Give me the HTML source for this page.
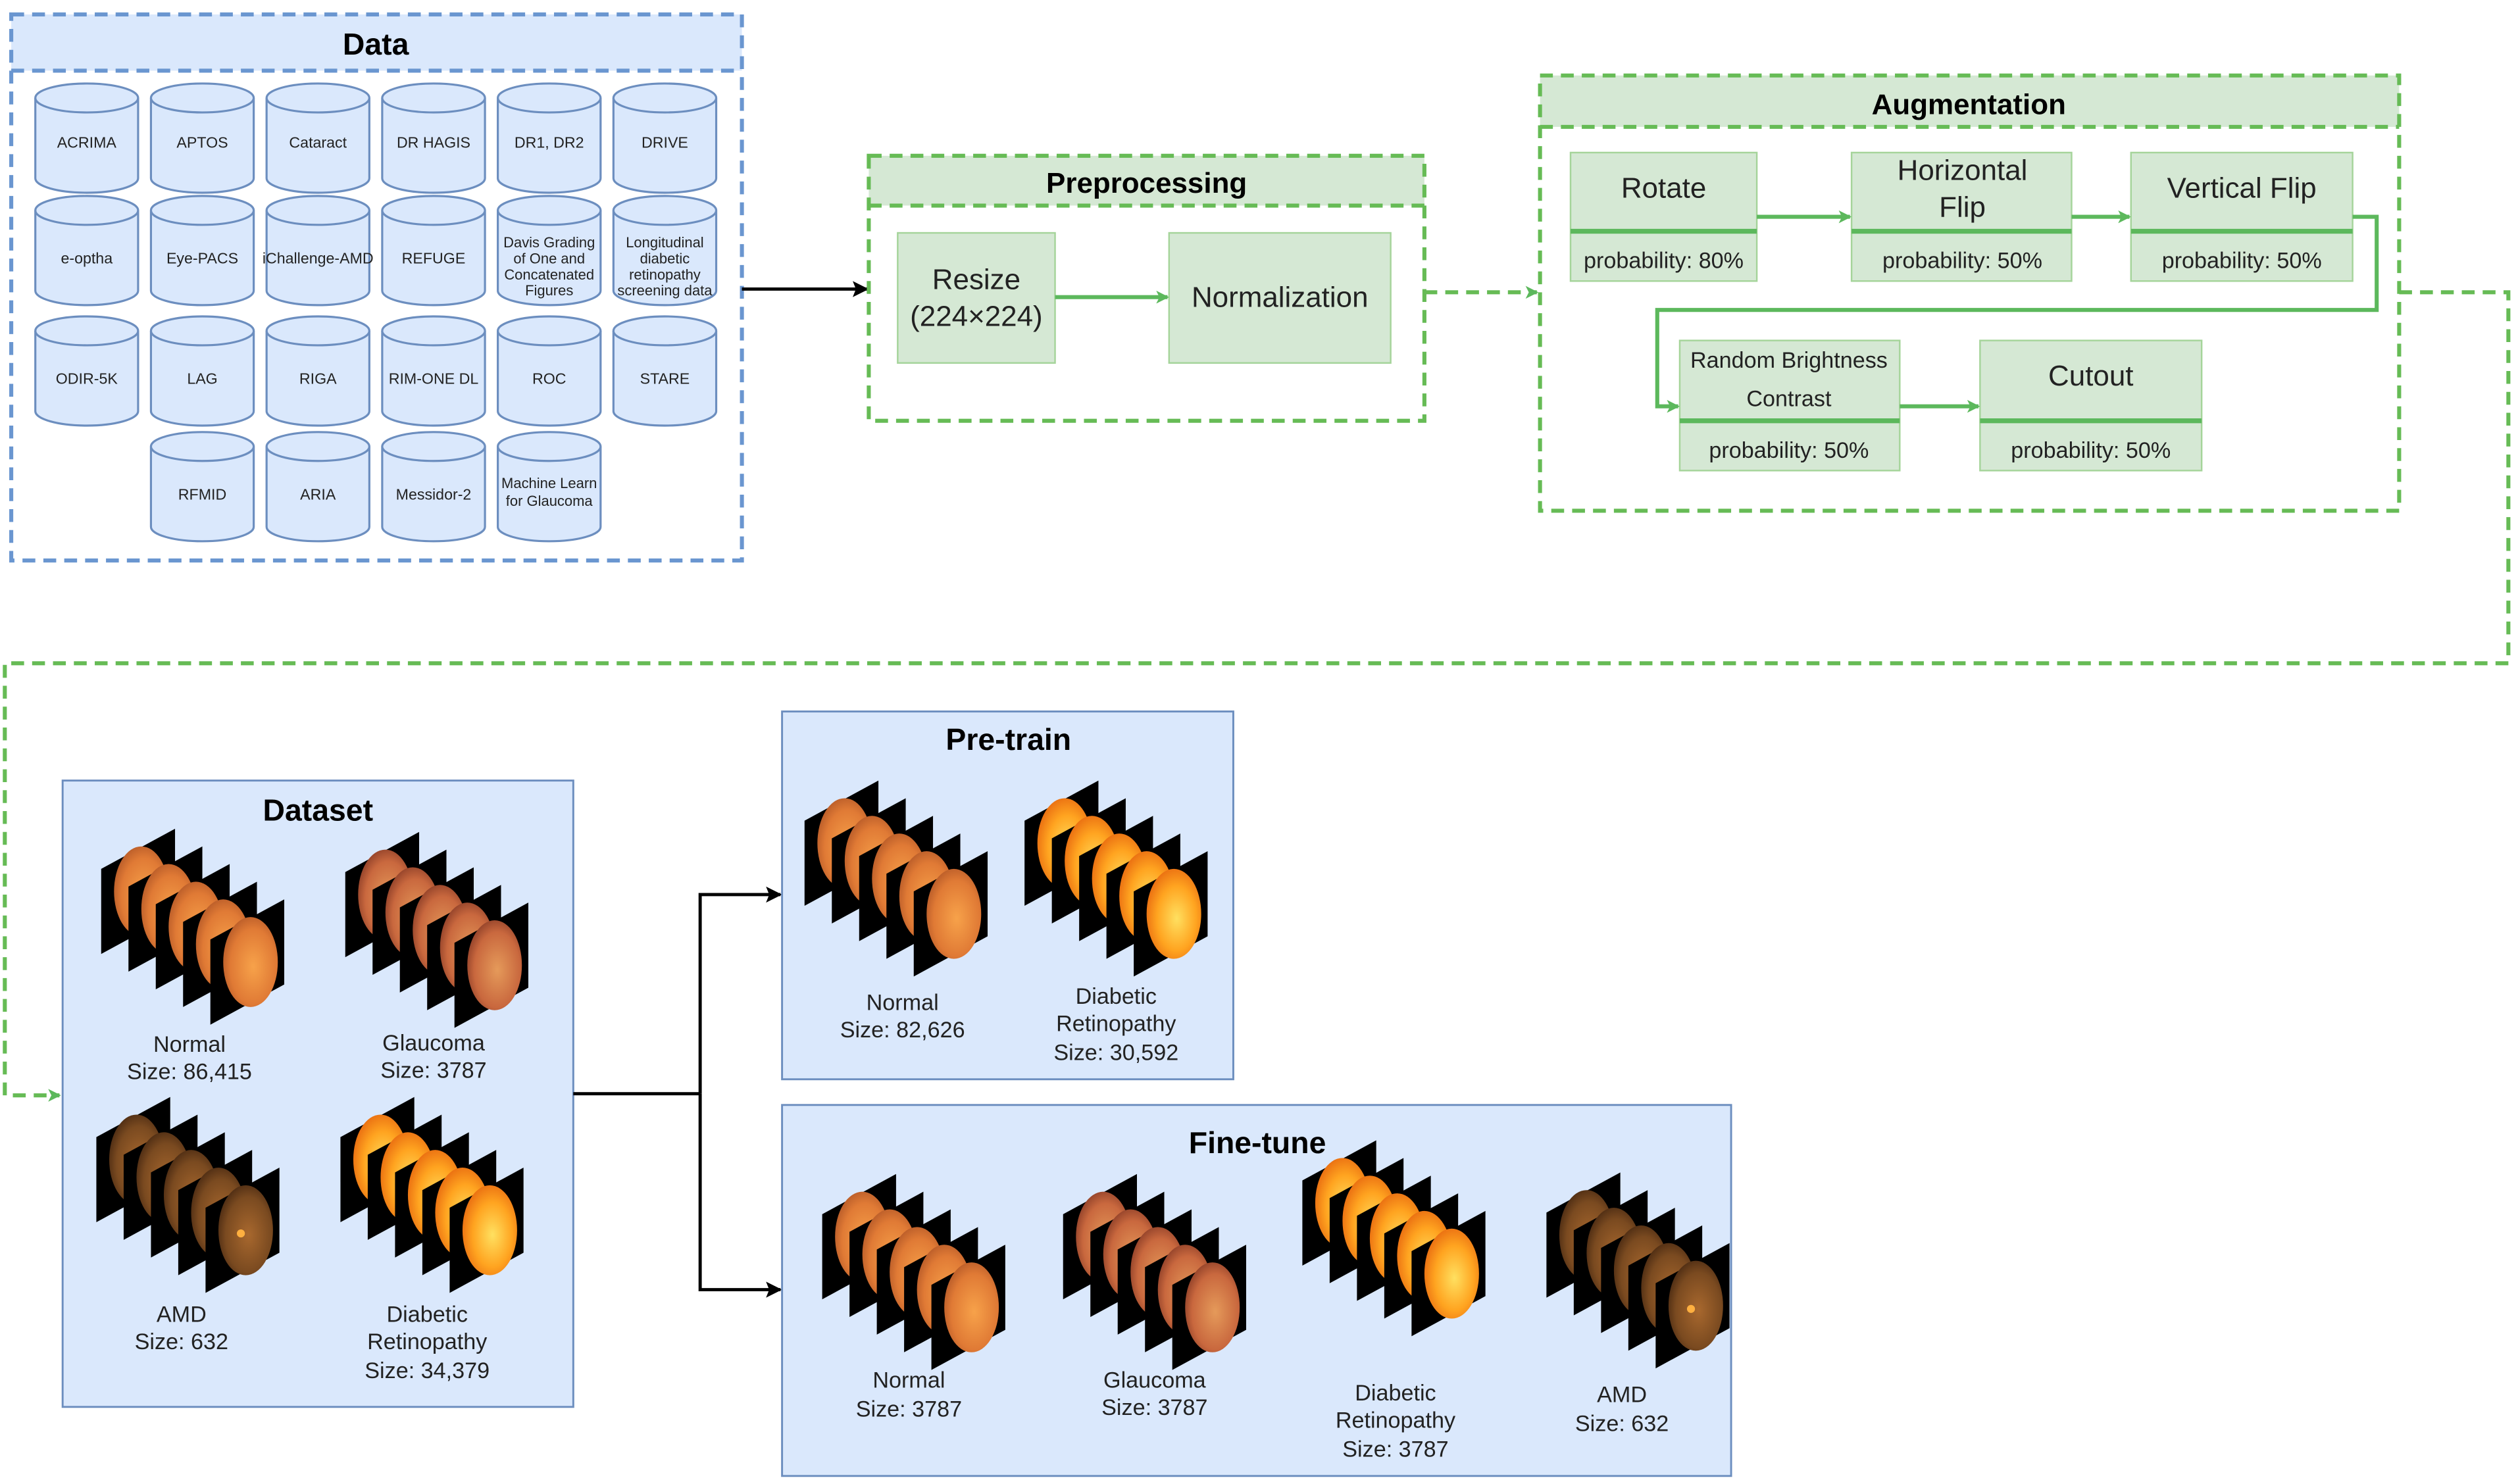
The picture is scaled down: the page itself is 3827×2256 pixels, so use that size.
<!DOCTYPE html>
<html><head><meta charset="utf-8"><style>html,body{margin:0;padding:0;background:#fff}svg{display:block}text{font-family:"Liberation Sans",Arial,sans-serif}</style></head>
<body>
<svg width="3827" height="2256" viewBox="0 0 1568 924" preserveAspectRatio="none" xmlns="http://www.w3.org/2000/svg">
<defs>
<radialGradient id="gN" cx="0.55" cy="0.55" r="0.6"><stop offset="0" stop-color="#f7a24a"/><stop offset="0.7" stop-color="#e07a35"/><stop offset="1" stop-color="#b65a28"/></radialGradient>
<radialGradient id="gG" cx="0.55" cy="0.55" r="0.6"><stop offset="0" stop-color="#e59a5a"/><stop offset="0.7" stop-color="#c9683e"/><stop offset="1" stop-color="#8e3f28"/></radialGradient>
<radialGradient id="gA" cx="0.55" cy="0.55" r="0.6"><stop offset="0" stop-color="#a8682e"/><stop offset="0.7" stop-color="#7a4a20"/><stop offset="1" stop-color="#4a2a12"/></radialGradient>
<radialGradient id="gD" cx="0.55" cy="0.55" r="0.6"><stop offset="0" stop-color="#ffe060"/><stop offset="0.6" stop-color="#ffa420"/><stop offset="1" stop-color="#e86a10"/></radialGradient>
<g id="pN"><polygon points="0,0 46,-25 46,28 0,53" fill="#000"/><ellipse cx="25" cy="14" rx="17" ry="28" fill="url(#gN)"/></g>
<g id="pG"><polygon points="0,0 46,-25 46,28 0,53" fill="#000"/><ellipse cx="25" cy="14" rx="17" ry="28" fill="url(#gG)"/></g>
<g id="pA"><polygon points="0,0 46,-25 46,28 0,53" fill="#000"/><ellipse cx="25" cy="14" rx="17" ry="28" fill="url(#gA)"/><circle cx="22" cy="16" r="2.5" fill="#ffb040"/></g>
<g id="pD"><polygon points="0,0 46,-25 46,28 0,53" fill="#000"/><ellipse cx="25" cy="14" rx="17" ry="28" fill="url(#gD)"/></g>
<g id="sN"><use href="#pN"/><use href="#pN" x="17" y="11"/><use href="#pN" x="34" y="22"/><use href="#pN" x="51" y="33"/><use href="#pN" x="68" y="44"/></g>
<g id="sG"><use href="#pG"/><use href="#pG" x="17" y="11"/><use href="#pG" x="34" y="22"/><use href="#pG" x="51" y="33"/><use href="#pG" x="68" y="44"/></g>
<g id="sA"><use href="#pA"/><use href="#pA" x="17" y="11"/><use href="#pA" x="34" y="22"/><use href="#pA" x="51" y="33"/><use href="#pA" x="68" y="44"/></g>
<g id="sD"><use href="#pD"/><use href="#pD" x="17" y="11"/><use href="#pD" x="34" y="22"/><use href="#pD" x="51" y="33"/><use href="#pD" x="68" y="44"/></g>
<g id="cyl"><path d="M0,9 L0,59 A32,9 0 0 0 64,59 L64,9 A32,9 0 0 0 0,9 Z" fill="#dae8fc" stroke="#6c8ebf" stroke-width="1.3"/><path d="M0,9 A32,9 0 0 0 64,9" fill="none" stroke="#6c8ebf" stroke-width="1.3"/></g>
<marker id="ag" markerWidth="8" markerHeight="8" refX="7" refY="4" orient="auto" markerUnits="userSpaceOnUse"><path d="M0,0 L8,4 L0,8 L2,4 Z" fill="#5cb85c"/></marker>
<marker id="ak" markerWidth="10" markerHeight="10" refX="9" refY="5" orient="auto" markerUnits="userSpaceOnUse"><path d="M0,0 L10,5 L0,10 L2,5 Z" fill="#000"/></marker>
</defs>

<rect x="7" y="9" width="455" height="35" fill="#dae8fc"/>
<rect x="7" y="9" width="455" height="340" fill="none" stroke="#6a96d0" stroke-width="2.5" stroke-dasharray="8,5"/>
<line x1="7" y1="44" x2="462" y2="44" stroke="#6a96d0" stroke-width="2.5" stroke-dasharray="8,5"/>
<text x="234" y="34" font-size="19" font-weight="bold" text-anchor="middle">Data</text>
<g font-size="9.5" fill="#222" text-anchor="middle">
<use href="#cyl" x="22" y="52"/><use href="#cyl" x="94" y="52"/><use href="#cyl" x="166" y="52"/><use href="#cyl" x="238" y="52"/><use href="#cyl" x="310" y="52"/><use href="#cyl" x="382" y="52"/>
<text x="54" y="92">ACRIMA</text><text x="126" y="92">APTOS</text><text x="198" y="92">Cataract</text><text x="270" y="92">DR HAGIS</text><text x="342" y="92">DR1, DR2</text><text x="414" y="92">DRIVE</text>
<use href="#cyl" x="22" y="122"/><use href="#cyl" x="94" y="122"/><use href="#cyl" x="166" y="122"/><use href="#cyl" x="238" y="122"/><use href="#cyl" x="310" y="122"/><use href="#cyl" x="382" y="122"/>
<text x="54" y="164">e-optha</text><text x="126" y="164">Eye-PACS</text><text x="198" y="164">iChallenge-AMD</text><text x="270" y="164">REFUGE</text>
<text x="342" y="154" font-size="9">Davis Grading</text><text x="342" y="164" font-size="9">of One and</text><text x="342" y="174" font-size="9">Concatenated</text><text x="342" y="184" font-size="9">Figures</text>
<text x="414" y="154" font-size="9">Longitudinal</text><text x="414" y="164" font-size="9">diabetic</text><text x="414" y="174" font-size="9">retinopathy</text><text x="414" y="184" font-size="9">screening data</text>
<use href="#cyl" x="22" y="197"/><use href="#cyl" x="94" y="197"/><use href="#cyl" x="166" y="197"/><use href="#cyl" x="238" y="197"/><use href="#cyl" x="310" y="197"/><use href="#cyl" x="382" y="197"/>
<text x="54" y="239">ODIR-5K</text><text x="126" y="239">LAG</text><text x="198" y="239">RIGA</text><text x="270" y="239">RIM-ONE DL</text><text x="342" y="239">ROC</text><text x="414" y="239">STARE</text>
<use href="#cyl" x="94" y="269"/><use href="#cyl" x="166" y="269"/><use href="#cyl" x="238" y="269"/><use href="#cyl" x="310" y="269"/>
<text x="126" y="311">RFMID</text><text x="198" y="311">ARIA</text><text x="270" y="311">Messidor-2</text>
<text x="342" y="304" font-size="9">Machine Learn</text><text x="342" y="315" font-size="9">for Glaucoma</text>
</g>
<line x1="462" y1="180" x2="540" y2="180" stroke="#000" stroke-width="2" marker-end="url(#ak)"/>

<rect x="541" y="97" width="346" height="31" fill="#d5e8d4"/>
<rect x="541" y="97" width="346" height="165" fill="none" stroke="#66bb55" stroke-width="2.5" stroke-dasharray="8,5"/>
<line x1="541" y1="128" x2="887" y2="128" stroke="#66bb55" stroke-width="2.5" stroke-dasharray="8,5"/>
<text x="714" y="120" font-size="18" font-weight="bold" text-anchor="middle">Preprocessing</text>
<rect x="559" y="145" width="98" height="81" fill="#d5e8d4" stroke="#a5d49a" stroke-width="1"/>
<text x="608" y="180" font-size="18" text-anchor="middle" fill="#222">Resize</text>
<text x="608" y="203" font-size="18" text-anchor="middle" fill="#222">(224×224)</text>
<rect x="728" y="145" width="138" height="81" fill="#d5e8d4" stroke="#a5d49a" stroke-width="1"/>
<text x="797" y="191" font-size="18" text-anchor="middle" fill="#222">Normalization</text>
<line x1="657" y1="185" x2="727" y2="185" stroke="#5cb85c" stroke-width="2.5" marker-end="url(#ag)"/>
<line x1="887" y1="182" x2="957" y2="182" stroke="#66bb55" stroke-width="2.5" stroke-dasharray="8,5" marker-end="url(#ag)"/>

<rect x="959" y="47" width="535" height="32" fill="#d5e8d4"/>
<rect x="959" y="47" width="535" height="271" fill="none" stroke="#66bb55" stroke-width="2.5" stroke-dasharray="8,5"/>
<line x1="959" y1="79" x2="1494" y2="79" stroke="#66bb55" stroke-width="2.5" stroke-dasharray="8,5"/>
<text x="1226" y="71" font-size="18" font-weight="bold" text-anchor="middle">Augmentation</text>
<g fill="#d5e8d4" stroke="#a5d49a" stroke-width="1">
<rect x="978" y="95" width="116" height="80"/><rect x="1153" y="95" width="137" height="80"/><rect x="1327" y="95" width="138" height="80"/>
<rect x="1046" y="212" width="137" height="81"/><rect x="1233" y="212" width="138" height="81"/>
</g>
<g stroke="#5cb85c" stroke-width="3">
<line x1="978" y1="144" x2="1094" y2="144"/><line x1="1153" y1="144" x2="1290" y2="144"/><line x1="1327" y1="144" x2="1465" y2="144"/>
<line x1="1046" y1="262" x2="1183" y2="262"/><line x1="1233" y1="262" x2="1371" y2="262"/>
</g>
<g font-size="18" text-anchor="middle" fill="#222">
<text x="1036" y="123">Rotate</text><text x="1222" y="112">Horizontal</text><text x="1222" y="135">Flip</text><text x="1396" y="123">Vertical Flip</text>
<text x="1302" y="240">Cutout</text>
<text x="1114" y="229" font-size="14">Random Brightness</text><text x="1114" y="253" font-size="14">Contrast</text>
</g>
<g font-size="14" text-anchor="middle" fill="#222">
<text x="1036" y="167">probability: 80%</text><text x="1222" y="167">probability: 50%</text><text x="1396" y="167">probability: 50%</text>
<text x="1114" y="285">probability: 50%</text><text x="1302" y="285">probability: 50%</text>
</g>
<g stroke="#5cb85c" stroke-width="2.5" fill="none">
<line x1="1094" y1="135" x2="1152" y2="135" marker-end="url(#ag)"/>
<line x1="1290" y1="135" x2="1326" y2="135" marker-end="url(#ag)"/>
<polyline points="1465,135 1480,135 1480,193 1032,193 1032,253 1045,253" marker-end="url(#ag)"/>
<line x1="1183" y1="253" x2="1232" y2="253" marker-end="url(#ag)"/>
</g>
<polyline points="1494,182 1562,182 1562,413 3,413 3,682 37,682" fill="none" stroke="#66bb55" stroke-width="2.5" stroke-dasharray="8,5" marker-end="url(#ag)"/>

<rect x="39" y="486" width="318" height="390" fill="#dae8fc" stroke="#6c8ebf" stroke-width="1.2"/>
<text x="198" y="511" font-size="19" font-weight="bold" text-anchor="middle">Dataset</text>
<use href="#sN" x="63" y="541"/><use href="#sG" x="215" y="543"/>
<use href="#sA" x="60" y="708"/><use href="#sD" x="212" y="708"/>
<g font-size="14" text-anchor="middle" fill="#222">
<text x="118" y="655">Normal</text><text x="118" y="672">Size: 86,415</text>
<text x="270" y="654">Glaucoma</text><text x="270" y="671">Size: 3787</text>
<text x="113" y="823">AMD</text><text x="113" y="840">Size: 632</text>
<text x="266" y="823">Diabetic</text><text x="266" y="840">Retinopathy</text><text x="266" y="858">Size: 34,379</text>
</g>

<g stroke="#000" stroke-width="2" fill="none">
<line x1="357" y1="681" x2="436" y2="681"/>
<polyline points="436,681 436,557 486,557" marker-end="url(#ak)"/>
<polyline points="436,681 436,803 486,803" marker-end="url(#ak)"/>
</g>

<rect x="487" y="443" width="281" height="229" fill="#dae8fc" stroke="#6c8ebf" stroke-width="1.2"/>
<text x="628" y="467" font-size="19" font-weight="bold" text-anchor="middle">Pre-train</text>
<use href="#sN" x="501" y="511"/><use href="#sD" x="638" y="511"/>
<g font-size="14" text-anchor="middle" fill="#222">
<text x="562" y="629">Normal</text><text x="562" y="646">Size: 82,626</text>
<text x="695" y="625">Diabetic</text><text x="695" y="642">Retinopathy</text><text x="695" y="660">Size: 30,592</text>
</g>

<rect x="487" y="688" width="591" height="231" fill="#dae8fc" stroke="#6c8ebf" stroke-width="1.2"/>
<text x="783" y="718" font-size="19" font-weight="bold" text-anchor="middle">Fine-tune</text>
<use href="#sN" x="512" y="756"/><use href="#sG" x="662" y="756"/><use href="#sD" x="811" y="735"/><use href="#sA" x="963" y="755"/>
<g font-size="14" text-anchor="middle" fill="#222">
<text x="566" y="864">Normal</text><text x="566" y="882">Size: 3787</text>
<text x="719" y="864">Glaucoma</text><text x="719" y="881">Size: 3787</text>
<text x="869" y="872">Diabetic</text><text x="869" y="889">Retinopathy</text><text x="869" y="907">Size: 3787</text>
<text x="1010" y="873">AMD</text><text x="1010" y="891">Size: 632</text>
</g>
</svg>
</body></html>
